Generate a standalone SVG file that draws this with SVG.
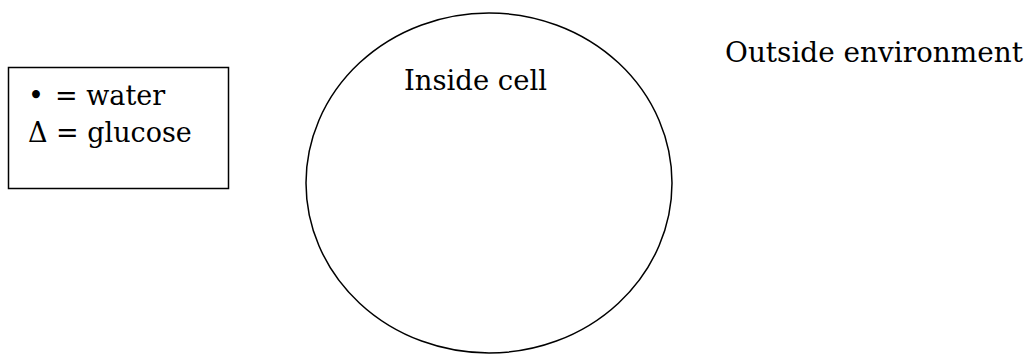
<svg xmlns="http://www.w3.org/2000/svg" width="1027" height="354" viewBox="0 0 1027 354">
<style>
.t{font-family:"DejaVu Serif","Liberation Serif",serif;font-size:27px;fill:#000}
.s{fill:none;stroke:#000;stroke-width:1.5}
</style>
<rect width="1027" height="354" fill="#fff"/>
<g id="legend">
<rect class="s" x="8.5" y="67.5" width="220" height="121"/>
<text class="t" x="28" y="105">•</text>
<text class="t" x="55" y="105">= water</text>
<text class="t" x="28" y="142">Δ = glucose</text>
</g>
<g id="cell">
<ellipse class="s" cx="489" cy="183" rx="183" ry="170"/>
<text class="t" x="404" y="90" textLength="143" lengthAdjust="spacingAndGlyphs">Inside cell</text>
</g>
<g id="outside">
<text class="t" x="725" y="62" textLength="298" lengthAdjust="spacingAndGlyphs">Outside environment</text>
</g>
<g id="connectors"/>
</svg>
